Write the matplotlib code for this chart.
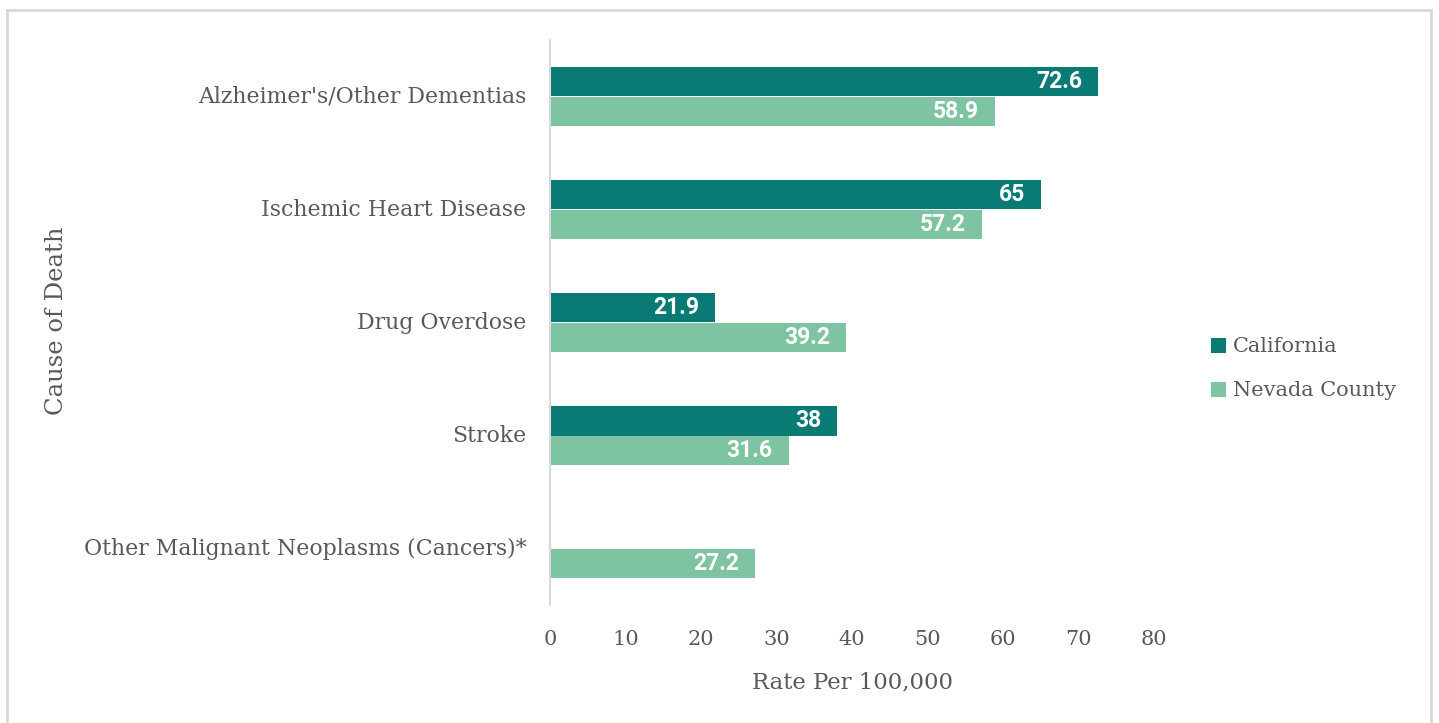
import matplotlib.pyplot as plt
import numpy as np

# data
causes = ["Alzheimer's/Other Dementias", "Ischemic Heart Disease", "Drug Overdose",
          "Stroke", "Other Malignant Neoplasms (Cancers)*"]
california = [72.6, 65, 21.9, 38, np.nan]
nevada = [58.9, 57.2, 39.2, 31.6, 27.2]
x_ticks = [0, 10, 20, 30, 40, 50, 60, 70, 80]

ca_color = '#0a7a75'
nv_color = '#7ec4a2'
text_color = '#595959'
frame_color = '#d9d9d9'
serif = ['DejaVu Serif']

fig = plt.figure(figsize=(14.39, 7.23), dpi=100)
ax = fig.add_axes([550 / 1439, 1 - 605 / 723, (1154 - 550) / 1439, (605 - 40) / 723])

y = np.arange(len(causes))
h = 0.257
bars_ca = ax.barh(y - h / 2, california, height=h, color=ca_color, label='California')
bars_nv = ax.barh(y + h / 2, nevada, height=h, color=nv_color, label='Nevada County')

# value labels inside the bar ends
for bars, vals in [(bars_ca, california), (bars_nv, nevada)]:
    for b, v in zip(bars, vals):
        if np.isnan(v):
            continue
        ax.text(v - 2.1, b.get_y() + b.get_height() / 2, f'{v:g}', ha='right', va='center',
                color='white', fontsize=16.5, fontweight='bold', family='Roboto')

ax.set_ylim(len(causes) - 0.5, -0.5)
ax.set_xlim(0, 80)
ax.set_yticks(y)
ax.set_yticklabels(causes, family=serif, fontsize=15.8, color=text_color, va='center')
ax.set_xticks(x_ticks)
ax.set_xticklabels([str(t) for t in x_ticks], family=serif, fontsize=15, color=text_color)
ax.tick_params(axis='both', length=0)
ax.tick_params(axis='x', pad=18)
ax.tick_params(axis='y', pad=17)

for s in ['top', 'right', 'bottom']:
    ax.spines[s].set_visible(False)
ax.spines['left'].set_color(frame_color)
ax.spines['left'].set_linewidth(1.5)

ax.set_xlabel('Rate Per 100,000', family=serif, fontsize=16.4, color=text_color, labelpad=16)
fig.text(57 / 1439, 1 - 321 / 723, 'Cause of Death', rotation=90, ha='center', va='center',
         family=serif, fontsize=17.5, color=text_color)

leg = fig.legend(handles=[bars_ca, bars_nv], loc='center left',
                 bbox_to_anchor=(1192 / 1439, 1 - 369 / 723), frameon=False,
                 handlelength=0.75, handleheight=0.75, handletextpad=0.3, labelspacing=1.2,
                 prop={'family': serif, 'size': 15})
for t in leg.get_texts():
    t.set_color(text_color)

# light gray frame around the chart
fig.add_artist(plt.Line2D([7 / 1439, 7 / 1439], [0, 1 - 10 / 723], transform=fig.transFigure,
                          color=frame_color, lw=2))
fig.add_artist(plt.Line2D([7 / 1439, 1431 / 1439], [1 - 10 / 723, 1 - 10 / 723],
                          transform=fig.transFigure, color=frame_color, lw=2))
fig.add_artist(plt.Line2D([1431 / 1439, 1431 / 1439], [0, 1 - 10 / 723], transform=fig.transFigure,
                          color=frame_color, lw=2))

fig.savefig('out.png', dpi=100, facecolor='white')
